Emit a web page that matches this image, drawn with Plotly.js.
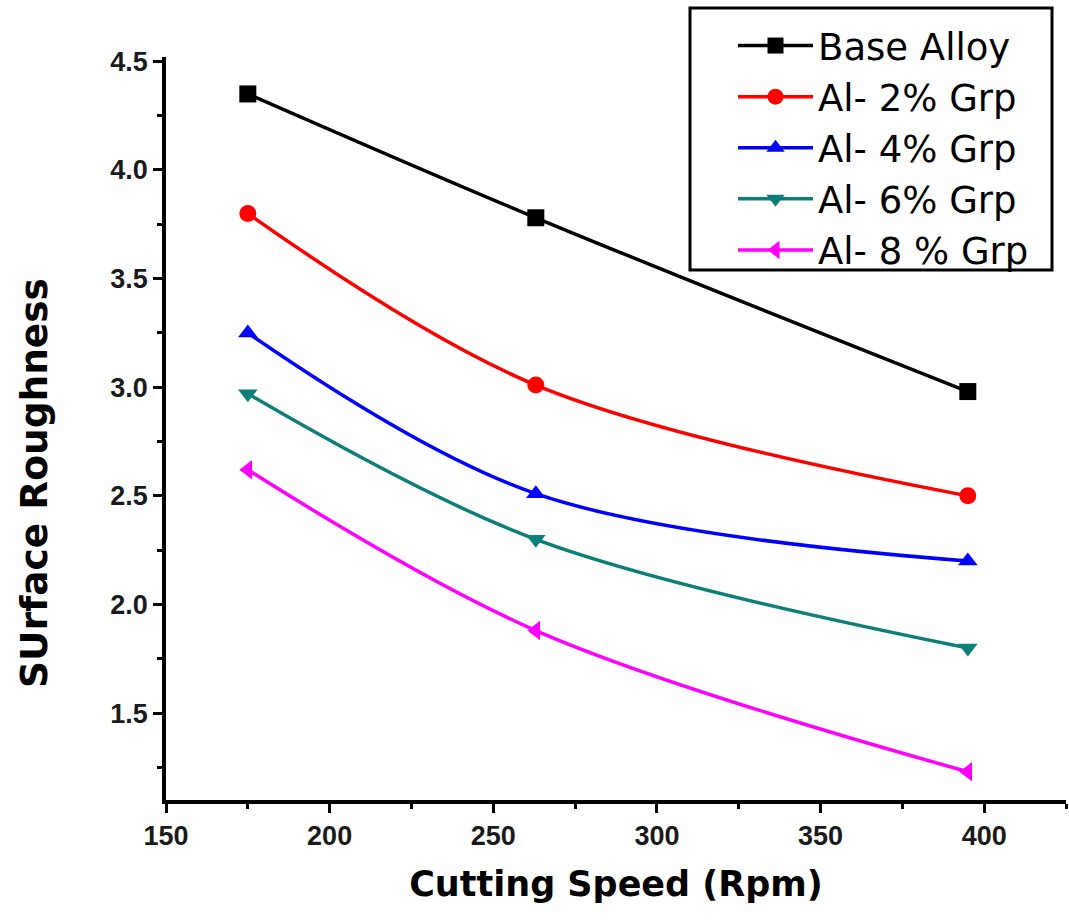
<!DOCTYPE html>
<html>
<head>
<meta charset="utf-8">
<script src="https://cdn.plot.ly/plotly-3.0.1.min.js"></script>
<style>html,body{margin:0;padding:0;background:#fff;}#chart{width:1069px;height:923px;}</style>
</head>
<body>
<div id="chart"></div>
<script>
const cuttingSpeed = [175, 263, 395];
const seriesNames = ["Base Alloy", "Al- 2% Grp", "Al- 4% Grp", "Al- 6% Grp", "Al- 8 % Grp"];
const baseAlloy = [4.35, 3.78, 2.98];
const al2 = [3.80, 3.01, 2.50];
const al4 = [3.25, 2.51, 2.20];
const al6 = [2.97, 2.30, 1.80];
const al8 = [2.62, 1.88, 1.23];
const xTicks = [150, 200, 250, 300, 350, 400];
const yTicks = [1.5, 2.0, 2.5, 3.0, 3.5, 4.0, 4.5];
const xTitle = "Cutting Speed (Rpm)";
const yTitle = "SUrface Roughness";

const seriesValues = [baseAlloy, al2, al4, al6, al8];
const colors = ["#000000", "#ff0000", "#0000ff", "#0c7f78", "#ff00ff"];
const symbols = ["square", "circle", "triangle-up", "triangle-down", "triangle-left"];

const traces = seriesValues.map((ys, i) => ({
  x: cuttingSpeed,
  y: ys,
  name: seriesNames[i],
  legendgroup: "g" + i,
  type: "scatter",
  mode: "lines+markers",
  line: {color: colors[i], width: 3.5, shape: "spline", smoothing: 1},
  marker: {symbol: symbols[i], size: 17, color: colors[i]}
}));

const tickFam = "Liberation Sans, Arial, sans-serif";
const wideFam = "DejaVu Sans, sans-serif";

const layout = {
  width: 1069, height: 923,
  margin: {l: 166, r: 3, t: 57, b: 123},
  paper_bgcolor: "#fff", plot_bgcolor: "#fff",
  showlegend: true,
  font: {family: tickFam, color: "#000"},
  xaxis: {
    range: [150, 425],
    tickvals: xTicks,
    ticktext: xTicks.map(v => "<b>" + v + "</b>"),
    ticks: "outside", ticklen: 9, tickwidth: 3, tickcolor: "#000",
    minor: {dtick: 25, ticks: "outside", ticklen: 5, tickwidth: 3, tickcolor: "#000"},
    showline: true, linewidth: 3.5, linecolor: "#000",
    showgrid: false, zeroline: false,
    tickfont: {family: tickFam, size: 27, color: "#1a1a1a"},
    title: {text: "<b>" + xTitle + "</b>", font: {family: wideFam, size: 35, color: "#000"}, standoff: 22}
  },
  yaxis: {
    range: [1.1, 4.52],
    tickvals: yTicks,
    ticktext: yTicks.map(v => "<b>" + v.toFixed(1) + "</b>"),
    ticks: "outside", ticklen: 9, tickwidth: 3, tickcolor: "#000",
    minor: {dtick: 0.25, ticks: "outside", ticklen: 5, tickwidth: 3, tickcolor: "#000"},
    showline: true, linewidth: 3.5, linecolor: "#000",
    showgrid: false, zeroline: false,
    tickfont: {family: tickFam, size: 27, color: "#1a1a1a"}
  },
  annotations: [{
    text: "<b>" + yTitle + "</b>",
    xref: "paper", yref: "paper",
    x: (34 - 166) / 900, y: (800 - 483) / 743,
    xanchor: "center", yanchor: "middle",
    textangle: -90, showarrow: false,
    font: {family: wideFam, size: 37.5, color: "#000"}
  }],
  shapes: [{
    type: "rect", xref: "paper", yref: "paper", layer: "above",
    x0: (690 - 166) / 900, x1: (1052 - 166) / 900,
    y0: 1 + (57 - 270) / 743, y1: 1 + (57 - 8) / 743,
    line: {color: "#000", width: 3}, fillcolor: "#fff"
  }],
  legend: {
    x: (733 - 166) / 900, y: 1 + (57 - 15) / 743, xanchor: "left", yanchor: "top",
    borderwidth: 0, bgcolor: "rgba(0,0,0,0)",
    font: {family: wideFam, size: 37, color: "#000"},
    traceorder: "grouped", tracegroupgap: 0,
    itemwidth: 75
  }
};

Plotly.newPlot("chart", traces, layout, {displayModeBar: false});
</script>
</body>
</html>
